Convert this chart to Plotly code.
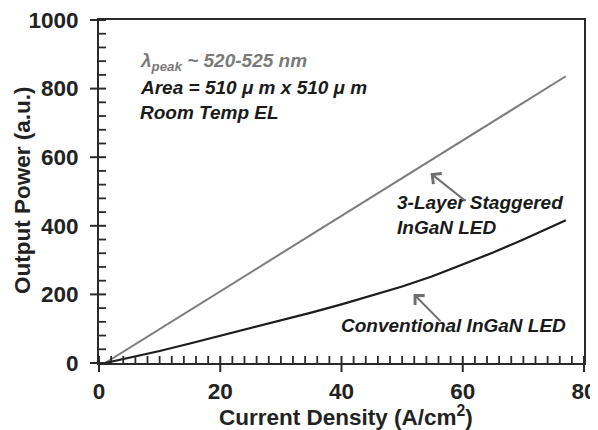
import plotly.graph_objects as go

# Data
x_stag = [1, 5, 10, 20, 30, 40, 50, 60, 70, 77]
y_stag = [0, 44, 99, 209, 319, 429, 539, 649, 759, 836]
x_conv = [1, 5, 10, 15, 20, 25, 30, 35, 40, 45, 50, 55, 60, 65, 70, 77]
y_conv = [0, 15, 35, 57, 79, 101, 124, 147, 171, 196, 223, 253, 287, 322, 360, 416]

x_range = [0, 80]
y_range = [0, 1000]
x_major, x_minor = 20, 2
y_major, y_minor = 200, 40
x_title = "Current Density (A/cm<sup>2</sup>)"
y_title = "Output Power (a.u.)"

FONT = "Liberation Sans, Arial, sans-serif"
AX = "#2a2a2a"
TXT = "#222222"

# figure geometry (the page body adds an 8px margin around the figure)
W, H = 590, 422
ML, MR, MT, MB = 91, 14, 12, 67
PW, PH = W - ML - MR, H - MT - MB

fig = go.Figure()
fig.add_trace(go.Scatter(x=x_stag, y=y_stag, mode="lines",
                         line=dict(color="#7c7c7c", width=2)))
fig.add_trace(go.Scatter(x=x_conv, y=y_conv, mode="lines",
                         line=dict(color="#1c1c1c", width=2.2)))

axis_common = dict(showline=True, linecolor=AX, linewidth=2, mirror=True,
                   showgrid=False, zeroline=False, ticks="", tickmode="linear",
                   automargin=False, ticklabeloverflow="allow",
                   tickfont=dict(family=FONT, size=22.5, color=TXT, weight="bold"))
fig.update_layout(
    xaxis=dict(range=x_range, tick0=0, dtick=x_major, ticklabelstandoff=7, **axis_common),
    yaxis=dict(range=y_range, tick0=0, dtick=y_major, ticklabelstandoff=14, **axis_common),
)

# axis titles
title_font = dict(family=FONT, size=22.5, color=TXT, weight="bold")
fig.add_annotation(text=x_title, xref="paper", yref="paper", x=(345.5 - 99) / PW,
                   y=-(416 - 363) / PH, xanchor="center", yanchor="middle",
                   showarrow=False, font=title_font)
fig.add_annotation(text=y_title, xref="paper", yref="paper", x=-(99 - 22) / PW,
                   y=(363 - 190) / PH, xanchor="center", yanchor="middle",
                   textangle=-90, showarrow=False, font=title_font)

# tick marks: majors cross the axis, minors point inside
OUT, IN = 9, 7
shapes = []
for i in range(int(x_range[0]), int(x_range[1]) + 1, x_minor):
    major = i % x_major == 0
    xp = (i - x_range[0]) / (x_range[1] - x_range[0])
    shapes.append(dict(type="line", xref="paper", yref="paper",
                       x0=xp, x1=xp, y0=(-OUT / PH if major else 0), y1=IN / PH,
                       line=dict(color=AX, width=2 if major else 1.8)))
for i in range(int(y_range[0]), int(y_range[1]) + 1, y_minor):
    major = i % y_major == 0
    yp = (i - y_range[0]) / (y_range[1] - y_range[0])
    shapes.append(dict(type="line", xref="paper", yref="paper",
                       y0=yp, y1=yp, x0=(-OUT / PW if major else 0), x1=IN / PW,
                       line=dict(color=AX, width=2 if major else 1.8)))
fig.update_layout(shapes=shapes)

ann_font = dict(family=FONT, size=19, color="#1a1a1a")
fig.add_annotation(x=6.4, y=877, xref="x", yref="y", xanchor="left", showarrow=False,
                   text="<b><i>λ<sub>peak</sub> ~ 520-525 nm</i></b>",
                   font=dict(family=FONT, size=19, color="#7a7a7a"))
fig.add_annotation(x=6.4, y=802, xref="x", yref="y", xanchor="left", showarrow=False,
                   text="<b><i>Area = 510 μ m x 510 μ m</i></b>", font=ann_font)
fig.add_annotation(x=6.4, y=729, xref="x", yref="y", xanchor="left", showarrow=False,
                   text="<b><i>Room Temp EL</i></b>", font=ann_font)
fig.add_annotation(x=48.8, y=431, xref="x", yref="y", xanchor="left", align="left",
                   showarrow=False,
                   text="<b><i>3-Layer Staggered<br>InGaN LED</i></b>", font=ann_font)
fig.add_annotation(x=39.6, y=108, xref="x", yref="y", xanchor="left", showarrow=False,
                   text="<b><i>Conventional InGaN LED</i></b>", font=ann_font)
fig.add_annotation(x=54.7, y=553, ax=60.7, ay=469, xref="x", yref="y",
                   axref="x", ayref="y", text="", showarrow=True,
                   arrowhead=4, arrowsize=1.3, arrowwidth=2, arrowcolor="#6e6e6e")
fig.add_annotation(x=51.9, y=201, ax=56.6, ay=117, xref="x", yref="y",
                   axref="x", ayref="y", text="", showarrow=True,
                   arrowhead=4, arrowsize=1.3, arrowwidth=2, arrowcolor="#6e6e6e")

fig.update_layout(width=W, height=H, showlegend=False,
                  margin=dict(l=ML, r=MR, t=MT, b=MB),
                  plot_bgcolor="white", paper_bgcolor="white")
fig.write_html("out.html")
